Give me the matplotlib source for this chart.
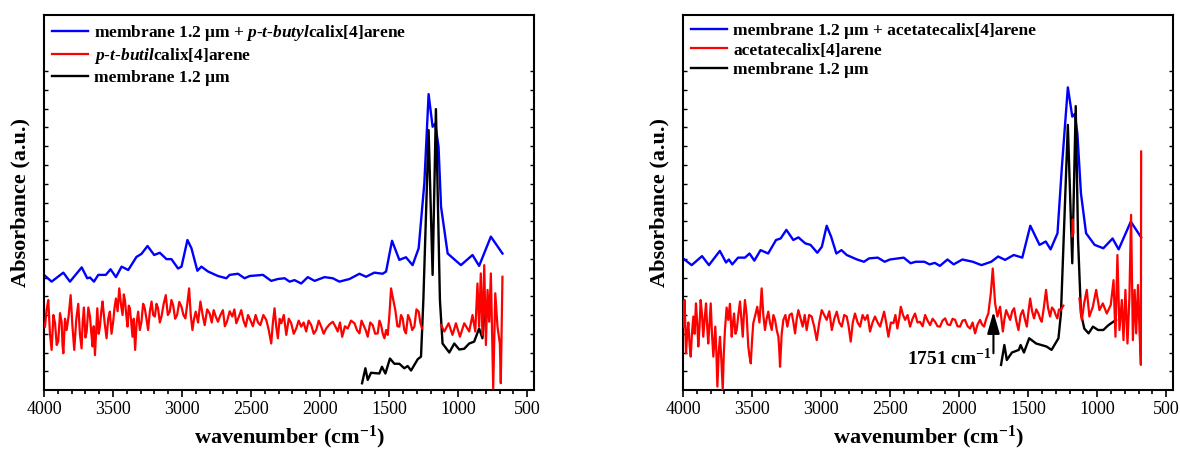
#!/usr/bin/env python3
# FTIR spectra: membrane 1.2 um with / without calix[4]arene (two panels)

import numpy as np
import matplotlib.pyplot as plt
from matplotlib.ticker import MultipleLocator, NullFormatter

plt.rcParams['font.family'] = ['Liberation Serif', 'DejaVu Serif']
plt.rcParams['mathtext.fontset'] = 'custom'
plt.rcParams['mathtext.rm'] = 'Liberation Serif:bold'
plt.rcParams['mathtext.bf'] = 'Liberation Serif:bold'
plt.rcParams['mathtext.it'] = 'Liberation Serif:italic:bold'

# --- left panel: p-t-butylcalix[4]arene ---
L_BLUE_WN = [4000, 3945, 3860, 3812, 3727, 3687, 3667, 3638, 3607, 3552, 3518, 3479,
             3438, 3390, 3330, 3294, 3250, 3202, 3161, 3113, 3077, 3029, 3004, 2961,
             2932, 2889, 2860, 2812, 2740, 2679, 2655, 2595, 2547, 2510, 2414, 2354,
             2306, 2257, 2221, 2185, 2137, 2089, 2040, 1968, 1908, 1860, 1787, 1715,
             1667, 1607, 1547, 1522, 1479, 1426, 1378, 1330, 1286, 1245, 1214, 1185,
             1166, 1142, 1124, 1076, 980, 896, 848, 763, 679]
L_BLUE_ABS = [0.307, 0.289, 0.313, 0.289, 0.327, 0.298, 0.300, 0.289, 0.307, 0.307, 0.322, 0.301,
              0.329, 0.320, 0.355, 0.363, 0.384, 0.360, 0.366, 0.349, 0.349, 0.324, 0.329, 0.400,
              0.378, 0.318, 0.329, 0.316, 0.304, 0.298, 0.307, 0.310, 0.298, 0.304, 0.307, 0.291,
              0.296, 0.298, 0.289, 0.293, 0.284, 0.301, 0.291, 0.301, 0.298, 0.289, 0.296, 0.310,
              0.302, 0.313, 0.310, 0.316, 0.398, 0.347, 0.354, 0.333, 0.378, 0.551, 0.789, 0.702,
              0.710, 0.649, 0.489, 0.364, 0.333, 0.360, 0.331, 0.409, 0.364]

L_BLACK_WN = [1696, 1672, 1655, 1631, 1571, 1552, 1527, 1494, 1462, 1426, 1390, 1366,
              1341, 1293, 1269, 1252, 1214, 1185, 1161, 1132, 1113, 1064, 1028, 992,
              956, 920, 884, 848, 824, 811]
L_BLACK_ABS = [0.018, 0.058, 0.027, 0.046, 0.044, 0.062, 0.044, 0.084, 0.070, 0.070, 0.058, 0.064,
               0.052, 0.082, 0.089, 0.240, 0.693, 0.307, 0.749, 0.240, 0.124, 0.100, 0.124, 0.108,
               0.110, 0.124, 0.129, 0.164, 0.138, 0.200]

L_RED_WN = [3993, 3981, 3969, 3957, 3945, 3932, 3920, 3908, 3897, 3884, 3872, 3866,
            3860, 3848, 3836, 3821, 3807, 3794, 3781, 3766, 3752, 3740, 3728, 3720,
            3711, 3700, 3691, 3679, 3667, 3657, 3648, 3640, 3631, 3622, 3614, 3604,
            3595, 3585, 3576, 3561, 3547, 3535, 3523, 3511, 3499, 3489, 3479, 3467,
            3455, 3443, 3431, 3422, 3414, 3404, 3395, 3386, 3378, 3368, 3359, 3350,
            3340, 3329, 3318, 3306, 3294, 3282, 3270, 3258, 3246, 3233, 3221, 3209,
            3197, 3185, 3174, 3161, 3149, 3133, 3118, 3103, 3089, 3077, 3065, 3050,
            3036, 3020, 3004, 2990, 2976, 2962, 2949, 2937, 2925, 2913, 2901, 2884,
            2867, 2851, 2836, 2818, 2800, 2785, 2771, 2755, 2740, 2722, 2704, 2690,
            2675, 2655, 2636, 2621, 2607, 2589, 2571, 2555, 2539, 2522, 2506, 2487,
            2467, 2450, 2433, 2411, 2390, 2372, 2354, 2342, 2330, 2318, 2306, 2293,
            2281, 2263, 2245, 2227, 2209, 2191, 2173, 2155, 2137, 2119, 2101, 2083,
            2064, 2046, 2028, 2010, 1992, 1974, 1956, 1932, 1908, 1890, 1872, 1856,
            1840, 1820, 1800, 1776, 1751, 1733, 1715, 1700, 1686, 1670, 1655, 1637,
            1619, 1601, 1583, 1570, 1558, 1546, 1534, 1522, 1510, 1498, 1486, 1470,
            1455, 1440, 1426, 1414, 1402, 1390, 1378, 1363, 1349, 1333, 1317, 1302,
            1286, 1274, 1262, 1190,
            1124, 1100, 1069, 1041, 1016, 987, 956, 920, 896, 876, 860, 848,
            836, 824, 811, 799, 787, 775, 763, 746, 731, 715, 698, 691, 679]
L_RED_ABS = [0.169, 0.215, 0.240, 0.150, 0.107, 0.200, 0.178, 0.120, 0.130, 0.205, 0.180, 0.120,
             0.098, 0.190, 0.160, 0.200, 0.253, 0.170, 0.107, 0.190, 0.230, 0.150, 0.111, 0.180,
             0.220, 0.140, 0.156, 0.220, 0.196, 0.150, 0.116, 0.170, 0.093, 0.160, 0.218, 0.150,
             0.169, 0.210, 0.236, 0.180, 0.138, 0.190, 0.209, 0.150, 0.182, 0.220, 0.244, 0.210,
             0.271, 0.230, 0.200, 0.255, 0.240, 0.200, 0.169, 0.225, 0.218, 0.180, 0.142, 0.190,
             0.107, 0.180, 0.209, 0.160, 0.182, 0.230, 0.218, 0.190, 0.160, 0.210, 0.236, 0.200,
             0.196, 0.230, 0.218, 0.180, 0.196, 0.230, 0.253, 0.200, 0.209, 0.240, 0.227, 0.190,
             0.200, 0.235, 0.222, 0.200, 0.191, 0.230, 0.271, 0.200, 0.160, 0.190, 0.209, 0.180,
             0.236, 0.200, 0.173, 0.215, 0.204, 0.180, 0.213, 0.195, 0.182, 0.200, 0.213, 0.170,
             0.182, 0.210, 0.196, 0.215, 0.178, 0.195, 0.213, 0.185, 0.169, 0.200, 0.187, 0.170,
             0.200, 0.180, 0.173, 0.200, 0.187, 0.160, 0.124, 0.180, 0.218, 0.170, 0.138, 0.190,
             0.178, 0.200, 0.147, 0.190, 0.178, 0.150, 0.164, 0.185, 0.169, 0.180, 0.156, 0.185,
             0.173, 0.150, 0.160, 0.185, 0.169, 0.150, 0.164, 0.175, 0.182, 0.170, 0.156, 0.180,
             0.142, 0.170, 0.164, 0.185, 0.178, 0.160, 0.151, 0.185, 0.173, 0.160, 0.142, 0.180,
             0.173, 0.150, 0.151, 0.185, 0.173, 0.150, 0.138, 0.160, 0.147, 0.200, 0.271, 0.240,
             0.213, 0.170, 0.169, 0.200, 0.191, 0.160, 0.151, 0.200, 0.187, 0.160, 0.169, 0.215,
             0.209, 0.180, 0.164, np.nan,
             0.173, 0.156, 0.178, 0.147, 0.178, 0.142, 0.178, 0.156, 0.200, 0.156, 0.284, 0.169,
             0.311, 0.147, 0.333, 0.120, 0.267, 0.182, 0.311, 0.004, 0.258, 0.169, 0.124, 0.018, 0.302]

# --- right panel: acetatecalix[4]arene ---
R_BLUE_WN = [4000, 3937, 3862, 3812, 3733, 3688, 3668, 3643, 3601, 3551, 3518, 3483,
             3438, 3383, 3326, 3293, 3251, 3201, 3164, 3114, 3076, 3027, 2994, 2959,
             2927, 2889, 2852, 2814, 2739, 2689, 2652, 2589, 2539, 2501, 2401, 2351,
             2314, 2251, 2214, 2176, 2139, 2084, 2039, 1976, 1901, 1838, 1767, 1717,
             1667, 1604, 1542, 1484, 1417, 1372, 1337, 1287, 1255, 1212, 1180, 1162,
             1143, 1117, 1080, 1018, 955, 888, 844, 756, 681]
R_BLUE_ABS = [0.351, 0.333, 0.357, 0.333, 0.371, 0.340, 0.348, 0.335, 0.353, 0.353, 0.364, 0.345,
              0.373, 0.364, 0.400, 0.404, 0.427, 0.400, 0.407, 0.391, 0.387, 0.366, 0.382, 0.438,
              0.409, 0.364, 0.373, 0.360, 0.348, 0.342, 0.351, 0.353, 0.342, 0.348, 0.353, 0.338,
              0.342, 0.342, 0.335, 0.339, 0.331, 0.348, 0.335, 0.348, 0.342, 0.333, 0.342, 0.356,
              0.347, 0.360, 0.353, 0.438, 0.387, 0.396, 0.375, 0.418, 0.596, 0.807, 0.729, 0.736,
              0.684, 0.524, 0.418, 0.387, 0.378, 0.404, 0.375, 0.449, 0.407]

R_BLACK_WN = [1696, 1672, 1654, 1617, 1567, 1554, 1530, 1492, 1442, 1404, 1367, 1330,
              1280, 1262, 1212, 1180, 1155, 1138, 1117, 1093, 1062, 1030, 993, 955,
              918, 863]
R_BLACK_ABS = [0.067, 0.120, 0.080, 0.100, 0.107, 0.120, 0.100, 0.138, 0.124, 0.120, 0.116, 0.107,
               0.138, 0.204, 0.707, 0.338, 0.757, 0.400, 0.204, 0.164, 0.151, 0.169, 0.160, 0.160,
               0.173, 0.187]

R_RED_WN = [3998, 3988, 3978, 3970, 3961, 3952, 3944, 3935, 3925, 3916, 3906, 3897,
            3889, 3880, 3872, 3862, 3853, 3843, 3833, 3825, 3817, 3808, 3799, 3790,
            3780, 3773, 3766, 3758, 3751, 3741, 3732, 3722, 3712, 3704, 3696, 3684,
            3672, 3660, 3647, 3638, 3630, 3620, 3611, 3599, 3587, 3577, 3567, 3559,
            3551, 3539, 3527, 3518, 3509, 3500, 3491, 3476, 3462, 3446, 3430, 3418,
            3406, 3394, 3382, 3370, 3357, 3345, 3333, 3321, 3309, 3303, 3297, 3285,
            3273, 3258, 3244, 3228, 3212, 3200, 3188, 3176, 3164, 3148, 3133, 3118,
            3104, 3086, 3068, 3050, 3031, 3013, 2995, 2977, 2959, 2940, 2922, 2904,
            2886, 2868, 2850, 2832, 2814, 2800, 2785, 2770, 2754, 2735, 2717, 2699,
            2681, 2663, 2645, 2627, 2609, 2590, 2572, 2557, 2543, 2528, 2512, 2494,
            2476, 2461, 2447, 2434, 2422, 2406, 2391, 2373, 2355, 2337, 2319, 2301,
            2283, 2264, 2246, 2228, 2210, 2192, 2174, 2156, 2138, 2120, 2101, 2083,
            2065, 2047, 2029, 2011, 1993, 1975, 1957, 1938, 1920, 1902, 1884, 1866,
            1848, 1834, 1819, 1803, 1788, 1770, 1756, 1739, 1722, 1703, 1683, 1671,
            1659, 1645, 1630, 1615, 1601, 1586, 1570, 1554, 1538, 1524, 1509, 1497,
            1485, 1471, 1457, 1441, 1425, 1413, 1401, 1386, 1370, 1356, 1341, 1327,
            1312, 1300, 1288, 1276, 1263, 1245, 1220,
            1180, 1176, 1172, 1150,
            1128, 1111, 1094, 1075, 1056, 1031, 1007, 983, 959, 930, 901, 881,
            867, 853, 838, 821, 809, 795, 780, 766, 754, 741, 728, 717,
            704, 693, 683, 681]
R_RED_ABS = [0.169, 0.240, 0.098, 0.150, 0.180, 0.120, 0.089, 0.150, 0.196, 0.150, 0.231, 0.180,
             0.116, 0.170, 0.240, 0.200, 0.142, 0.190, 0.231, 0.170, 0.124, 0.180, 0.231, 0.150,
             0.089, 0.130, 0.169, 0.100, 0.009, 0.100, 0.142, 0.080, 0.000, 0.100, 0.160, 0.220,
             0.187, 0.230, 0.142, 0.180, 0.204, 0.150, 0.160, 0.200, 0.236, 0.190, 0.142, 0.200,
             0.240, 0.200, 0.116, 0.090, 0.071, 0.130, 0.178, 0.200, 0.222, 0.180, 0.271, 0.200,
             0.160, 0.190, 0.209, 0.180, 0.160, 0.200, 0.187, 0.160, 0.142, 0.110, 0.062, 0.150,
             0.187, 0.200, 0.169, 0.200, 0.204, 0.180, 0.151, 0.190, 0.213, 0.190, 0.169, 0.200,
             0.160, 0.200, 0.196, 0.170, 0.133, 0.180, 0.213, 0.200, 0.187, 0.210, 0.160, 0.190,
             0.209, 0.180, 0.169, 0.200, 0.196, 0.170, 0.129, 0.180, 0.204, 0.180, 0.169, 0.200,
             0.187, 0.200, 0.156, 0.180, 0.196, 0.180, 0.169, 0.190, 0.209, 0.180, 0.142, 0.180,
             0.178, 0.200, 0.164, 0.190, 0.222, 0.200, 0.187, 0.200, 0.169, 0.190, 0.204, 0.180,
             0.182, 0.170, 0.200, 0.185, 0.173, 0.190, 0.182, 0.170, 0.169, 0.185, 0.191, 0.175,
             0.173, 0.190, 0.187, 0.170, 0.169, 0.185, 0.187, 0.170, 0.164, 0.180, 0.151, 0.175,
             0.187, 0.175, 0.169, 0.190, 0.204, 0.258, 0.324, 0.231, 0.196, 0.222, 0.156, 0.190,
             0.213, 0.200, 0.187, 0.210, 0.218, 0.185, 0.160, 0.200, 0.213, 0.190, 0.169, 0.210,
             0.244, 0.210, 0.191, 0.215, 0.204, 0.190, 0.182, 0.220, 0.267, 0.220, 0.196, 0.220,
             0.213, 0.200, 0.191, 0.215, 0.213, 0.225, np.nan,
             0.410, 0.455, 0.420, np.nan,
             0.244, 0.187, 0.231, 0.267, 0.196, 0.222, 0.267, 0.213, 0.231, 0.204, 0.227, 0.293,
             0.142, 0.360, 0.160, 0.240, 0.133, 0.267, 0.124, 0.249, 0.467, 0.133, 0.267, 0.151,
             0.280, 0.160, 0.067, 0.636]

LABELS_LEFT = [r'membrane 1.2 μm + $\mathit{p}$-$\mathit{t}$-$\mathit{butyl}$calix[4]arene',
               r'$\mathit{p}$-$\mathit{t}$-$\mathit{butil}$calix[4]arene',
               'membrane 1.2 μm']
LABELS_RIGHT = ['membrane 1.2 μm + acetatecalix[4]arene',
                'acetatecalix[4]arene',
                'membrane 1.2 μm']
X_TICKS = [4000, 3500, 3000, 2500, 2000, 1500, 1000, 500]
PEAK_WN = 1751


def draw_panel(ax, blue, red, black, labels):
    lb, = ax.plot(blue[0], blue[1], color='#0000ff', lw=1.7, zorder=2)
    lk, = ax.plot(black[0], black[1], color='black', lw=1.7, zorder=3)
    lr, = ax.plot(red[0], red[1], color='#ff0000', lw=1.6, zorder=4)

    ax.set_xlim(4000, 450)
    ax.set_ylim(0, 1)
    ax.set_xticks(X_TICKS)
    ax.xaxis.set_minor_locator(MultipleLocator(100))
    ax.set_yticks(np.arange(0.05, 0.86, 0.05))
    ax.yaxis.set_major_formatter(NullFormatter())
    ax.tick_params(axis='x', which='major', direction='out', length=5, width=1.2,
                   labelsize=13, top=False, pad=3)
    ax.tick_params(axis='x', which='minor', direction='out', length=3, width=1.2, top=False)
    ax.tick_params(axis='y', which='major', direction='in', length=3, width=1.0,
                   left=True, right=True)
    for s in ax.spines.values():
        s.set_linewidth(1.5)

    ax.set_xlabel('wavenumber (cm$^{-1}$)', fontsize=16, fontweight='bold', labelpad=4)
    ax.set_ylabel('Absorbance (a.u.)', fontsize=16, fontweight='bold', labelpad=6)

    ax.legend([lb, lr, lk], labels, loc='upper left', frameon=False,
              prop={'weight': 'bold', 'size': 12.5}, handlelength=2.1,
              handletextpad=0.35, labelspacing=0.2, borderpad=0.2, borderaxespad=0.25)


fig = plt.figure(figsize=(11.8, 4.5), dpi=100)
ax1 = fig.add_axes([0.0373, 0.1333, 0.4153, 0.8334])
ax2 = fig.add_axes([0.5788, 0.1333, 0.4153, 0.8334])

draw_panel(ax1, (L_BLUE_WN, L_BLUE_ABS), (L_RED_WN, L_RED_ABS),
           (L_BLACK_WN, L_BLACK_ABS), LABELS_LEFT)
draw_panel(ax2, (R_BLUE_WN, R_BLUE_ABS), (R_RED_WN, R_RED_ABS),
           (R_BLACK_WN, R_BLACK_ABS), LABELS_RIGHT)

# стрелка к пику 1751 cm-1
ax2.annotate('', xy=(PEAK_WN, 0.209), xytext=(PEAK_WN, 0.098),
             arrowprops=dict(arrowstyle='-|>,head_length=0.95,head_width=0.27',
                             color='black', lw=1.5, mutation_scale=14, shrinkA=0, shrinkB=0),
             zorder=5)
ax2.text(PEAK_WN + 15, 0.085, '1751 cm$^{-1}$', ha='right', va='center',
         fontsize=14, fontweight='bold')

fig.savefig('out.png', dpi=100)
